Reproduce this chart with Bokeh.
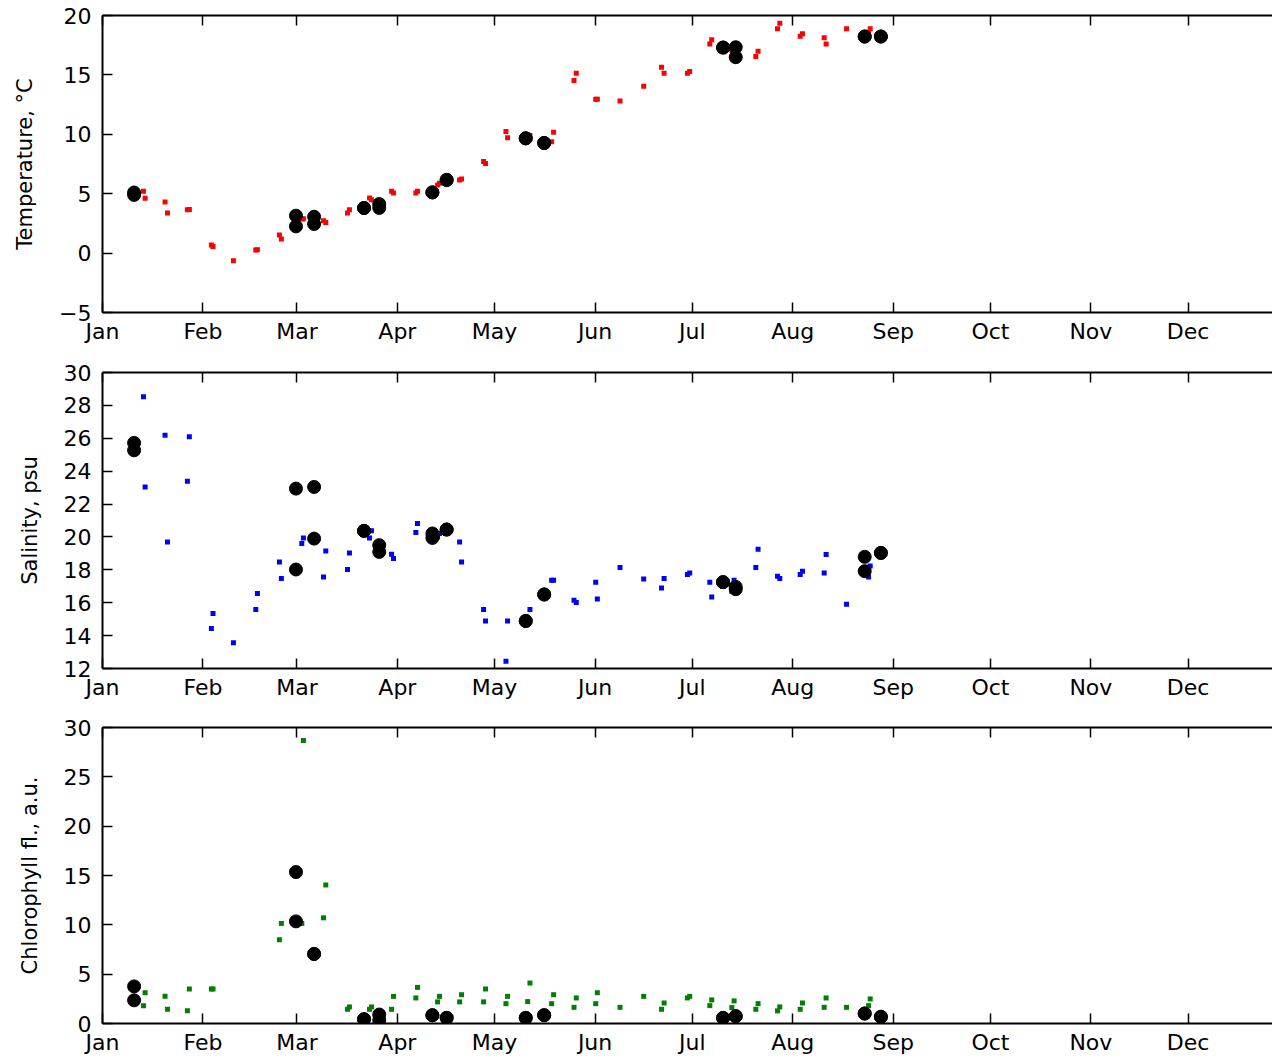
from bokeh.plotting import figure
from bokeh.layouts import column
from bokeh.models import FixedTicker, LinearAxis, Range1d
from bokeh.embed import file_html
from bokeh.resources import INLINE

nan = float("nan")

# ---- month ticks (leap year, day of year starting at 0) ----
month_starts = [0, 31, 60, 91, 121, 152, 182, 213, 244, 274, 305, 335]
month_labels = ["Jan", "Feb", "Mar", "Apr", "May", "Jun",
                "Jul", "Aug", "Sep", "Oct", "Nov", "Dec"]

# ---- CTD profile dates (day of year) ----
ctd_days = [12.65, 13.15, 19.3, 20.05, 26.2, 26.8, 33.6, 34.1, 40.4, 47.3, 47.8,
            54.6, 55.2, 61.5, 62.0, 68.2, 68.9, 75.6, 76.2, 82.4, 83.0, 89.2, 89.8,
            96.7, 97.2, 103.4, 104.0, 110.2, 110.8, 117.6, 118.2, 124.5, 125.0,
            131.2, 131.9, 138.6, 139.2, 145.5, 146.2, 152.2, 152.7, 159.7, 167.0,
            172.5, 173.3, 180.5, 181.2, 187.4, 188.0, 194.2, 194.9, 201.6, 202.3,
            208.3, 209.0, 215.3, 216.0, 222.7, 223.3, 229.6, 236.4, 236.9]

ctd_temp = [5.20, 4.61, 4.30, 3.37, 3.65, 3.68, 0.68, 0.56, -0.64, 0.26, 0.28,
            1.52, 1.18, 2.87, 2.90, 2.73, 2.58, 3.37, 3.65, 4.64, 4.50, 5.20, 5.06,
            5.06, 5.20, 5.73, 5.87, 6.16, 6.24, 7.72, 7.55, 10.23, 9.70,
            9.97, 9.90, 9.38, 10.17, 14.52, 15.14, 12.95, 12.95, 12.81, 14.04,
            15.64, 15.14, 15.14, 15.28, 17.61, 17.95, 17.05, 17.20, 16.55, 16.99,
            18.88, 19.35, 18.26, 18.46, 18.12, 17.61, 18.88, 18.60, 18.88]

ctd_sal = [28.52, 23.04, 26.19, 19.70, 23.39, 26.09, 14.43, 15.34, 13.56, 15.59, 16.56,
           18.48, 17.47, 19.60, 19.94, 17.57, 19.15, 18.02, 19.03, 19.94, 20.37, 18.95, 18.69,
           20.27, 20.82, 20.00, 20.21, 19.70, 18.48, 15.59, 14.89, 12.44, 14.89,
           14.80, 15.59, 17.37, 17.37, 16.15, 16.01, 17.25, 16.23, 18.14, 17.45,
           16.90, 17.47, 17.72, 17.81, 17.25, 16.35, 16.70, 17.37, 18.14, 19.25,
           17.61, 17.47, 17.72, 17.92, 17.81, 18.93, 15.91, 17.57, 18.24]

ctd_chl = [1.81, 3.12, 2.75, 1.44, 1.28, 3.50, 3.50, 3.50, nan, nan, nan,
           8.49, 10.14, 10.14, 28.69, 10.71, 14.04, 1.44, 1.68, 1.44, 1.68, 1.44, 2.75,
           2.59, 3.66, 2.19, 2.75, 2.19, 2.92, 2.19, 3.50, 2.01, 2.75,
           2.22, 4.10, 2.01, 2.92, 1.64, 2.59, 2.01, 3.12, 1.64, 2.75,
           1.44, 2.08, 2.59, 2.75, 1.81, 2.39, 1.61, 2.29, 1.44, 2.01,
           1.28, 1.68, 1.44, 2.08, 1.64, 2.59, 1.64, 1.81, 2.49]

# ---- bottle samples (black dots) ----
bottle_days = [9.75, 9.75, 59.7, 59.7, 65.3, 65.3, 80.7, 80.7, 85.4, 85.4,
               101.8, 101.8, 106.2, 106.2, 130.6, 130.6, 136.3, 136.3,
               191.5, 191.5, 195.4, 195.4, 235.2, 235.2, 240.2, 240.2]
bottle_temp = [5.10, 4.90, 3.15, 2.25, 3.06, 2.45, 3.80, 3.80, 4.13, 3.80,
               5.11, 5.11, 6.16, 6.16, 9.66, 9.66, 9.27, 9.27,
               17.30, 17.30, 17.33, 16.49, 18.23, 18.23, 18.23, 18.23]
bottle_sal = [25.72, 25.27, 22.94, 18.02, 23.04, 19.90, 20.37, 20.37, 19.50, 19.09,
              20.21, 19.94, 20.45, 20.45, 14.89, 14.89, 16.50, 16.50,
              17.25, 17.25, 16.96, 16.82, 18.79, 17.92, 19.03, 19.03]
bottle_chl = [3.76, 2.35, 15.35, 10.35, 7.05, 7.05, 0.43, 0.43, 0.91, 0.33,
              0.84, 0.84, 0.57, 0.57, 0.57, 0.57, 0.84, 0.84,
              0.57, 0.57, 0.74, 0.74, 1.01, 1.01, 0.68, 0.68]

temp_ticks = [-5, 0, 5, 10, 15, 20]
temp_tick_labels = ["\u22125", "0", "5", "10", "15", "20"]
sal_ticks = [12, 14, 16, 18, 20, 22, 24, 26, 28, 30]
sal_tick_labels = [str(v) for v in sal_ticks]
chl_ticks = [0, 5, 10, 15, 20, 25, 30]
chl_tick_labels = [str(v) for v in chl_ticks]

FONT = "DejaVu Sans"
FIG_W = 1272
LEFT = 102
PX_PER_DAY = 3.2406
X_END = (FIG_W - LEFT) / PX_PER_DAY


def style_x_axis(ax, labels=True):
    ax.ticker = FixedTicker(ticks=month_starts)
    ax.minor_tick_line_color = None
    ax.major_tick_in = 10
    ax.major_tick_out = 0
    ax.major_tick_line_width = 1.5
    ax.axis_line_width = 2
    ax.major_label_text_font = FONT
    ax.major_label_text_font_size = "22px"
    if labels:
        ax.major_label_overrides = {m: l for m, l in zip(month_starts, month_labels)}
        ax.major_label_text_color = "black"
        ax.major_label_standoff = 6
    else:
        ax.major_label_text_color = None
        ax.major_label_standoff = 0


def panel(height, top, bottom, yr, ticks, tick_labels, ylabel,
          ctd_vals, color, bottle_vals):
    p = figure(width=FIG_W, height=height,
               x_range=Range1d(0, X_END), y_range=Range1d(*yr),
               output_backend="svg", toolbar_location=None,
               min_border_left=LEFT, min_border_right=0,
               min_border_top=top, min_border_bottom=bottom)
    p.outline_line_color = None
    p.xgrid.visible = False
    p.ygrid.visible = False
    p.background_fill_color = "white"
    p.border_fill_color = "white"

    style_x_axis(p.xaxis[0], labels=True)
    top_axis = LinearAxis()
    style_x_axis(top_axis, labels=False)
    p.add_layout(top_axis, "above")

    ya = p.yaxis[0]
    ya.ticker = FixedTicker(ticks=ticks)
    ya.major_label_overrides = {t: l for t, l in zip(ticks, tick_labels)}
    ya.minor_tick_line_color = None
    ya.major_tick_in = 10
    ya.major_tick_out = 0
    ya.major_tick_line_width = 1.5
    ya.axis_line_width = 2
    ya.major_label_text_font = FONT
    ya.major_label_text_font_size = "22px"
    ya.major_label_text_color = "black"
    ya.major_label_standoff = 11
    ya.axis_label = ylabel
    ya.axis_label_text_font = FONT
    ya.axis_label_text_font_size = "21px"
    ya.axis_label_text_font_style = "normal"
    ya.axis_label_text_color = "black"
    ya.axis_label_standoff = 19

    p.scatter(ctd_days, ctd_vals, marker="square", size=5,
              fill_color=color, line_color=None)
    p.scatter(bottle_days, bottle_vals, marker="circle", size=13,
              fill_color="black", line_color="black")
    return p


p1 = panel(350, 15, 38, (-5, 20), temp_ticks, temp_tick_labels,
           "Temperature, \u00b0C", ctd_temp, "red", bottle_temp)
p2 = panel(355, 22, 37, (12, 30), sal_ticks, sal_tick_labels,
           "Salinity, psu", ctd_sal, "blue", bottle_sal)
p3 = panel(352, 22, 32, (0, 30), chl_ticks, chl_tick_labels,
           "Chlorophyll fl., a.u.", ctd_chl, "green", bottle_chl)

layout = column(p1, p2, p3, spacing=0)

open("out.html", "w").write(file_html(layout, INLINE))
